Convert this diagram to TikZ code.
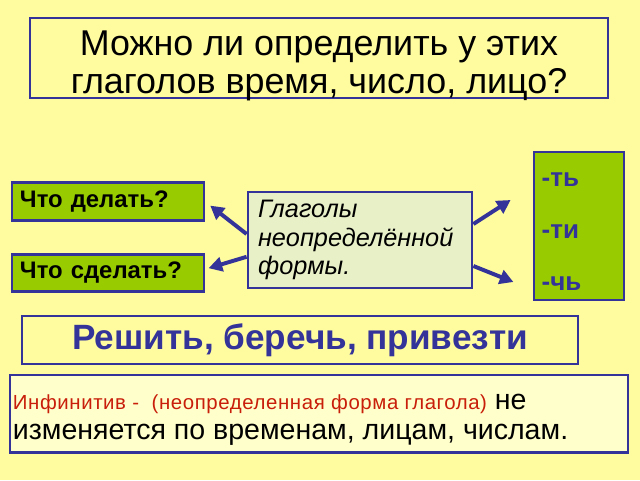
\documentclass[tikz,border=0pt]{standalone}
\usepackage{fontspec}
\setmainfont{Liberation Sans}
\usetikzlibrary{arrows.meta,positioning}
\definecolor{bgcolor}{RGB}{255,252,160}
\definecolor{navycolor}{RGB}{51,51,153}
\definecolor{greencolor}{RGB}{153,204,0}
\definecolor{palegreen}{RGB}{232,240,200}
\definecolor{paleyellow}{RGB}{255,255,204}
\definecolor{redcolor}{RGB}{200,30,10}

\begin{document}
\begin{tikzpicture}[
  tag/.style={
    draw=navycolor,
    line width=2pt,
    fill=greencolor,
    minimum width=4.8cm,
    minimum height=0.94cm,
    text width=4.4cm,
    inner xsep=0.2cm,
    inner ysep=0pt,
    align=left,
    font=\fontsize{17}{20}\selectfont\bfseries
  },
  arr/.style={
    draw=navycolor,
    line width=2.8pt,
    -{Triangle[length=0.34cm,width=0.36cm]}
  }
]

% -------- Background --------
\fill[bgcolor] (0,0) rectangle (16,-12);

% -------- Question card --------
\node[
draw=navycolor,
line width=2pt,
fill=bgcolor,
minimum width=14.45cm,
minimum height=2.0cm,
inner sep=0pt
] (question) at (7.975,-1.45) {};
\node[
align=center,
inner sep=0pt,
font=\fontsize{25.5}{27}\selectfont
] (questiontext) at ([yshift=-0.2cm]question.center)
{Можно ли определить у этих\\
глаголов время, число, лицо?};

% -------- Questions --------
\node[tag] (delat) at (2.7,-5.04) {Что делать?};
\node[tag] (sdelat) at (2.7,-6.825) {Что сделать?};

% -------- Verb form --------
\node[
draw=navycolor,
line width=2pt,
fill=palegreen,
minimum width=5.6cm,
minimum height=2.4cm,
text width=5.1cm,
inner xsep=0.25cm,
align=left,
font=\fontsize{18}{20.5}\selectfont\itshape
] (form) at (9.0,-6.0)
{Глаголы\\
неопределённой\\
формы.};

% -------- Endings --------
\node[
draw=navycolor,
line width=2pt,
fill=greencolor,
minimum width=2.25cm,
minimum height=3.7cm,
inner sep=0pt
] (endings) at (14.475,-5.65) {};
\node[
anchor=north west,
align=left,
inner sep=0pt,
text=navycolor,
font=\fontsize{18.5}{21.5}\selectfont\bfseries
] (endingstext) at ([xshift=0.22cm,yshift=-0.55cm]endings.north west)
{-ть\\[15.5pt]
-ти\\[15.5pt]
-чь};

% -------- Arrows --------
\draw[arr] ([yshift=0.15cm]form.west) -- ([xshift=0.12cm,yshift=-0.1cm]delat.east);
\draw[arr] ([yshift=-0.42cm]form.west) -- ([xshift=0.08cm,yshift=0.12cm]sdelat.east);
\draw[arr] ([yshift=0.4cm]form.east) -- ([xshift=-0.55cm,yshift=0.65cm]endings.west);
\draw[arr] ([yshift=-0.65cm]form.east) -- ([xshift=-0.48cm,yshift=-1.4cm]endings.west);

% -------- Examples --------
\node[
draw=navycolor,
line width=2pt,
fill=bgcolor,
minimum width=13.9cm,
minimum height=1.2cm,
inner sep=0pt,
align=center,
text=navycolor,
font=\fontsize{25}{28}\selectfont\bfseries
] (examples) at (7.5,-8.5)
{Решить, беречь, привезти};

% -------- Rule --------
\node[
draw=navycolor,
line width=2pt,
fill=paleyellow,
minimum width=15.45cm,
minimum height=1.93cm,
inner sep=0pt
] (rule) at (7.975,-10.34) {};
\node[
anchor=west,
align=left,
inner sep=0pt,
font=\fontsize{20.3}{21}\selectfont
] (ruletext) at ([xshift=0.1cm,yshift=-0.15cm]rule.west)
{{\color{redcolor}\fontsize{14.5}{16}\selectfont\addfontfeature{LetterSpace=3}Инфинитив -\ \ (неопределенная форма глагола)} не\\
изменяется по временам, лицам, числам.};

\end{tikzpicture}
\end{document}
